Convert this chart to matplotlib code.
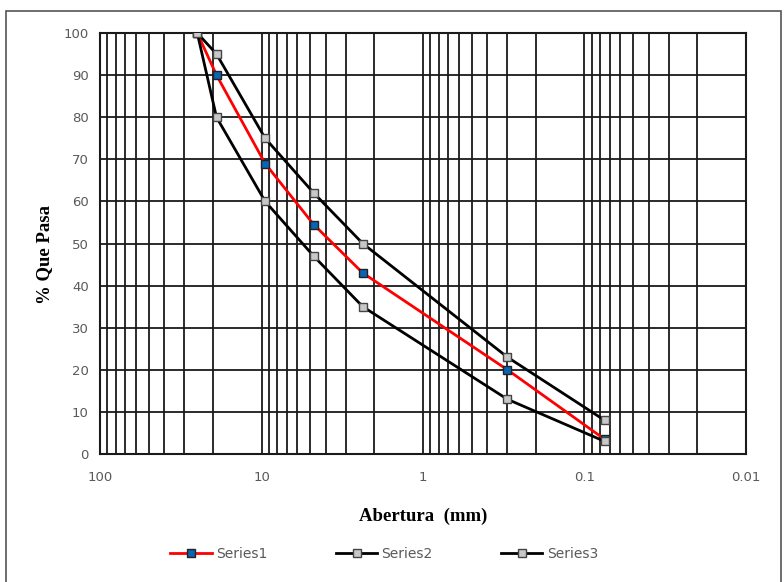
import matplotlib
matplotlib.use("Agg")
import matplotlib.pyplot as plt
from matplotlib.patches import Rectangle
from matplotlib.ticker import LogLocator, NullFormatter, FixedLocator

# sieve openings (mm) and % passing
abertura = [25, 19, 9.5, 4.75, 2.36, 0.3, 0.075]
series1 = [100, 90, 69, 54.5, 43, 20, 3.5]
series2 = [100, 95, 75, 62, 50, 23, 8]
series3 = [100, 80, 60, 47, 35, 13, 3]

x_ticks = [100, 10, 1, 0.1, 0.01]
x_tick_labels = ["100", "10", "1", "0.1", "0.01"]
y_ticks = list(range(0, 101, 10))

fig = plt.figure(figsize=(7.84, 5.82), dpi=100)
ax = fig.add_axes([0.1276, 0.2199, 0.8239, 0.7234])

ax.plot(abertura, series1, color="#ff0000", lw=2, marker="s", ms=6,
        mfc="#0a64b4", mec="#222222", mew=1, label="Series1", zorder=3)
ax.plot(abertura, series2, color="black", lw=2, marker="s", ms=6,
        mfc="#c8c8c8", mec="#444444", mew=1, label="Series2", zorder=4)
ax.plot(abertura, series3, color="black", lw=2, marker="s", ms=6,
        mfc="#c8c8c8", mec="#444444", mew=1, label="Series3", zorder=4)

ax.set_xscale("log")
ax.set_xlim(100, 0.01)
ax.set_ylim(0, 100)
ax.xaxis.set_major_locator(FixedLocator(x_ticks))
ax.set_xticklabels(x_tick_labels)
ax.xaxis.set_minor_locator(LogLocator(base=10, subs=range(2, 10), numticks=20))
ax.xaxis.set_minor_formatter(NullFormatter())
ax.set_yticks(y_ticks)

ax.grid(True, which="both", axis="x", color="#1a1a1a", lw=1.3)
ax.grid(True, which="major", axis="y", color="#1a1a1a", lw=1.3)
ax.set_axisbelow(True)
for s in ax.spines.values():
    s.set_color("#1a1a1a")
    s.set_linewidth(1.5)

ax.tick_params(which="both", length=0, labelsize=9.5, labelcolor="#595959", pad=8)
ax.tick_params(axis="x", pad=12)

ax.set_xlabel("Abertura  (mm)", fontfamily="Liberation Serif", fontweight="bold",
              fontsize=13.5, labelpad=17)
ax.set_ylabel("% Que Pasa", fontfamily="Liberation Serif", fontweight="bold",
              fontsize=13.5)
ax.yaxis.set_label_coords(-0.072, 0.473)

fig.legend(loc="center", bbox_to_anchor=(0.49, 0.048), ncol=3, frameon=False,
           fontsize=10, labelcolor="#595959", columnspacing=4.9, handlelength=3.0,
           handletextpad=0.3)

fig.patches.append(Rectangle((0.008, -0.01), 0.988, 0.991, transform=fig.transFigure,
                             fill=False, ec="#555555", lw=1.2))

fig.savefig("out.png", dpi=100)
